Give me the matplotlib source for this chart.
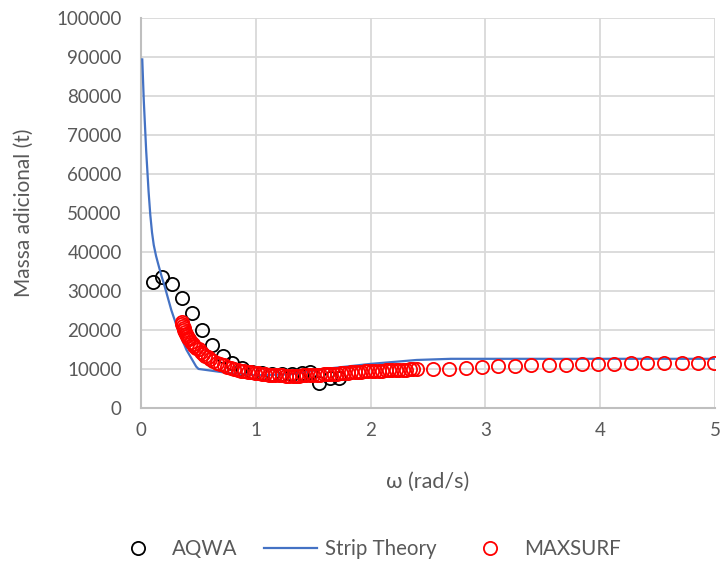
import matplotlib
matplotlib.use('Agg')
import matplotlib.pyplot as plt
from matplotlib.lines import Line2D

# AQWA
aqwa_w = [0.10, 0.186, 0.273, 0.36, 0.447, 0.528, 0.62, 0.71, 0.795, 0.88,
          0.97, 1.057, 1.138, 1.225, 1.312, 1.399, 1.472, 1.553, 1.646, 1.727]
aqwa_m = [32200, 33700, 31800, 28300, 24400, 20000, 16150, 13300, 11450, 10200,
          9300, 8900, 8700, 8700, 8700, 8900, 9200, 6300, 7600, 7800]

# Strip Theory
strip_w = [0.01, 0.023, 0.044, 0.065, 0.08, 0.095, 0.11, 0.13, 0.148, 0.176,
           0.206, 0.263, 0.322, 0.395, 0.48, 0.50, 0.75, 1.00, 1.30, 1.60,
           2.00, 2.40, 2.70, 5.00]
strip_m = [89400, 79000, 66000, 55500, 49500, 45000, 41800, 39000, 37000,
           34000, 31100, 25100, 20000, 14900, 10600, 10000, 9000, 8400, 8600,
           10000, 11300, 12300, 12600, 12600]

# MAXSURF
maxs_w = [0.355, 0.36, 0.365, 0.37, 0.375, 0.38, 0.39, 0.40, 0.41, 0.42,
          0.435, 0.45, 0.465, 0.48, 0.50, 0.52, 0.54, 0.56, 0.58, 0.60,
          0.63, 0.66, 0.69, 0.72, 0.75, 0.78, 0.81, 0.84, 0.87, 0.90,
          0.93, 0.96, 0.99, 1.02, 1.05, 1.08, 1.11, 1.14, 1.17, 1.20,
          1.23, 1.26, 1.29, 1.32, 1.35, 1.38, 1.41, 1.44, 1.47, 1.50,
          1.53, 1.56, 1.59, 1.62, 1.65, 1.68, 1.71, 1.74, 1.77, 1.80,
          1.83, 1.86, 1.89, 1.92, 1.95, 1.98, 2.01, 2.04, 2.07, 2.10,
          2.13, 2.16, 2.19, 2.22, 2.25, 2.28, 2.31, 2.34, 2.37, 2.40,
          2.54, 2.68, 2.83, 2.97, 3.11, 3.26, 3.40, 3.55, 3.70, 3.84,
          3.98, 4.12, 4.27, 4.41, 4.56, 4.71, 4.85, 4.99]
maxs_m = [22000, 21500, 21000, 20500, 20000, 19600, 19000, 18500, 18000, 17600,
          17000, 16500, 16000, 15500, 15000, 14400, 13900, 13400, 13000, 12600,
          12100, 11600, 11200, 10900, 10600, 10300, 10000, 9800, 9600, 9400,
          9250, 9100, 8950, 8850, 8750, 8650, 8550, 8500, 8450, 8400,
          8350, 8300, 8300, 8300, 8300, 8300, 8350, 8350, 8400, 8450,
          8500, 8550, 8600, 8650, 8700, 8750, 8800, 8900, 8950, 9000,
          9100, 9150, 9200, 9300, 9350, 9400, 9450, 9500, 9550, 9600,
          9650, 9700, 9750, 9750, 9800, 9850, 9850, 9900, 9900, 9950,
          9900, 10100, 10300, 10500, 10700, 10800, 10900, 11000, 11100, 11200,
          11300, 11350, 11400, 11450, 11500, 11550, 11600, 11650]

txt = '#595959'
grid = '#d9d9d9'
plt.rcParams['font.family'] = ['Lato', 'DejaVu Sans']
plt.rcParams['font.size'] = 13.5

fig = plt.figure(figsize=(7.2, 5.65), dpi=100)
ax = fig.add_axes([0.196, 0.278, 0.797, 0.690])

ax.plot(aqwa_w, aqwa_m, 'o', ms=9.5, mfc='none', mec='black', mew=1.3, zorder=3)
ax.plot(strip_w, strip_m, '-', color='#4472C4', lw=1.6, zorder=4)
ax.plot(maxs_w, maxs_m, 'o', ms=9.5, mfc='none', mec='#ff0000', mew=1.3, zorder=5)

ax.set_xlim(0, 5)
ax.set_ylim(0, 100000)
ax.set_xticks(range(0, 6))
ax.set_yticks(range(0, 100001, 10000))
ax.grid(True, color=grid, lw=1.3, zorder=0)
ax.set_axisbelow(True)
for s in ['top', 'right']:
    ax.spines[s].set_visible(False)
for s in ['left', 'bottom']:
    ax.spines[s].set_color('#bfbfbf')
    ax.spines[s].set_linewidth(1.5)
ax.tick_params(length=0, colors=txt, labelsize=13.5)
ax.tick_params(axis='y', pad=14)
ax.tick_params(axis='x', pad=10)

ax.set_xlabel('ω (rad/s)', color=txt, fontsize=15.5, labelpad=24)
ax.set_ylabel('Massa adicional (t)', color=txt, fontsize=15, labelpad=16)

handles = [
    Line2D([], [], ls='none', marker='o', ms=9.5, mfc='none', mec='black', mew=1.3),
    Line2D([], [], color='#4472C4', lw=1.6),
    Line2D([], [], ls='none', marker='o', ms=9.5, mfc='none', mec='#ff0000', mew=1.3),
]
leg = fig.legend(handles, ['AQWA', 'Strip Theory', 'MAXSURF'], loc='center',
                 bbox_to_anchor=(0.508, 0.028), ncol=3, frameon=False,
                 handlelength=2.6, handletextpad=0.35, columnspacing=1.3,
                 fontsize=14.8)
for t in leg.get_texts():
    t.set_color(txt)

fig.savefig('out.png', dpi=100)
